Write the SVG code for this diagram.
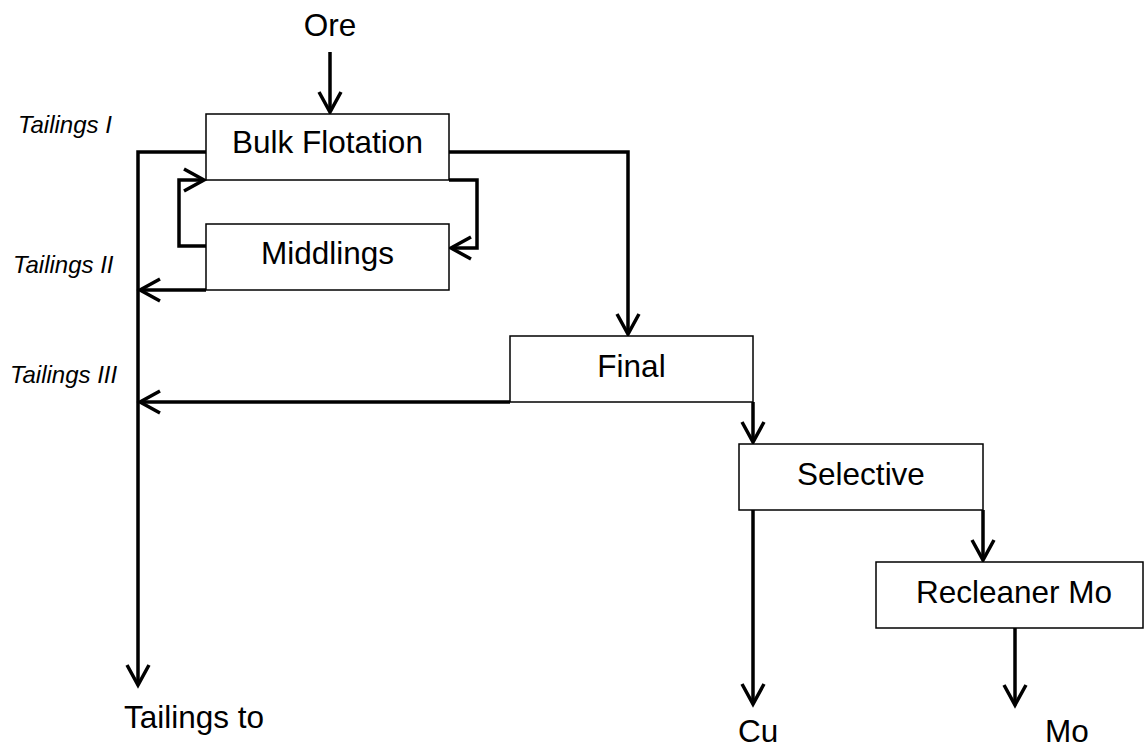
<svg xmlns="http://www.w3.org/2000/svg" width="1146" height="749" viewBox="0 0 1146 749">
<style>
.box{fill:#fff;stroke:#000;stroke-width:1.5}
.lbl{font-family:"Liberation Sans",Arial,sans-serif;font-size:31.5px;fill:#000}
.it{font-family:"Liberation Sans",Arial,sans-serif;font-size:24px;font-style:italic;fill:#000}
.c{fill:none;stroke:#000;stroke-width:3.5;stroke-linejoin:miter}
</style>
<defs>
<marker id="arr" markerUnits="userSpaceOnUse" markerWidth="30" markerHeight="30" viewBox="-25 -15 30 30" refX="0" refY="0" orient="auto" overflow="visible">
<path d="M-20,-11 L0,0 L-20,11" fill="none" stroke="#000" stroke-width="3.5"/>
</marker>
</defs>
<rect width="1146" height="749" fill="#fff"/>
<g id="connectors">
<path class="c" d="M330,52 V112" marker-end="url(#arr)"/>
<path class="c" d="M206,152 H138 V685" marker-end="url(#arr)"/>
<path class="c" d="M449,152 H628 V334" marker-end="url(#arr)"/>
<path class="c" d="M449,180 H477 V248 H451" marker-end="url(#arr)"/>
<path class="c" d="M206,246 H179 V180 H204" marker-end="url(#arr)"/>
<path class="c" d="M206,290 H140" marker-end="url(#arr)"/>
<path class="c" d="M510,402 H140" marker-end="url(#arr)"/>
<path class="c" d="M753,402 V442" marker-end="url(#arr)"/>
<path class="c" d="M983,510 V560" marker-end="url(#arr)"/>
<path class="c" d="M753,510 V704" marker-end="url(#arr)"/>
<path class="c" d="M1015,628 V705" marker-end="url(#arr)"/>
</g>
<g id="ore"><text class="lbl" x="330" y="36" text-anchor="middle">Ore</text></g>
<g id="bulk"><rect class="box" x="206" y="114" width="243" height="66"/><text class="lbl" x="327.5" y="153" text-anchor="middle">Bulk Flotation</text></g>
<g id="middlings"><rect class="box" x="206" y="224" width="243" height="66"/><text class="lbl" x="327.5" y="264" text-anchor="middle">Middlings</text></g>
<g id="final"><rect class="box" x="510" y="336" width="243" height="66"/><text class="lbl" x="631.5" y="377" text-anchor="middle">Final</text></g>
<g id="selective"><rect class="box" x="739" y="444" width="244" height="66"/><text class="lbl" x="861" y="485" text-anchor="middle">Selective</text></g>
<g id="recleaner"><rect class="box" x="876" y="562" width="267" height="66"/><text class="lbl" x="1014" y="603" text-anchor="middle">Recleaner Mo</text></g>
<g id="tailings1"><text class="it" x="18" y="133">Tailings I</text></g>
<g id="tailings2"><text class="it" x="13" y="273">Tailings II</text></g>
<g id="tailings3"><text class="it" x="10" y="383">Tailings III</text></g>
<g id="tailingsto"><text class="lbl" x="124" y="728">Tailings to</text></g>
<g id="cu"><text class="lbl" x="738" y="742">Cu</text></g>
<g id="mo"><text class="lbl" x="1045" y="742">Mo</text></g>
</svg>
